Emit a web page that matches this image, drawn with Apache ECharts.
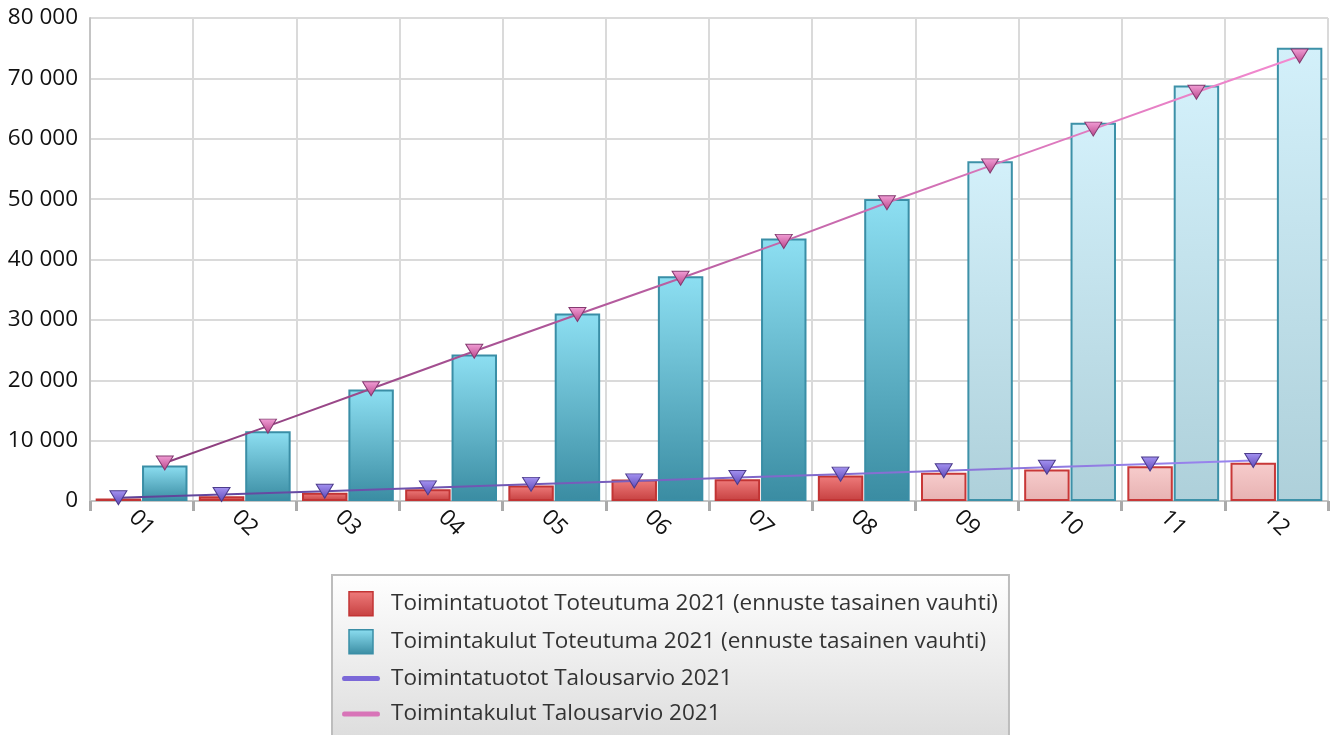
<!DOCTYPE html>
<html>
<head>
<meta charset="utf-8">
<script src="https://cdn.jsdelivr.net/npm/echarts@6/dist/echarts.min.js"></script>
<style>html,body{margin:0;padding:0;background:#fff}#c{width:1338px;height:735px}</style>
</head>
<body>
<div id="c"></div>
<script>
const months = ['01','02','03','04','05','06','07','08','09','10','11','12'];
const tuototToteutuma = [400, 800, 1360, 1950, 2570, 3560, 3600, 4220, 4670, 5220, 5760, 6320];
const kulutToteutuma = [5880, 11560, 18460, 24250, 31040, 37220, 43460, 50030, 56260, 62670, 68840, 75080];
const tuototBudjetti = [530, 1080, 1620, 2180, 2760, 3330, 3900, 4450, 5020, 5580, 6140, 6700];
const kulutBudjetti = [6300, 12400, 18600, 24800, 30900, 36900, 43000, 49400, 55500, 61600, 67700, 73700];
const forecastFrom = 8; // index of first forecast month
const yTicks = [0, 10000, 20000, 30000, 40000, 50000, 60000, 70000, 80000];

const names = [
  'Toimintatuotot Toteutuma 2021 (ennuste tasainen vauhti)',
  'Toimintakulut Toteutuma 2021 (ennuste tasainen vauhti)',
  'Toimintatuotot Talousarvio 2021',
  'Toimintakulut Talousarvio 2021'
];

const G = echarts.graphic.LinearGradient;
const catGap = 0.11, barGap = 0.02;
const bw = (1 - catGap) / (2 + barGap);
const offRed = catGap / 2 + bw / 2;
const offBlue = catGap / 2 + bw * (1 + barGap) + bw / 2;

const redActual = {color: new G(0,0,0,1,[{offset:0,color:'#ef7c7c'},{offset:1,color:'#c64040'}]), borderColor:'#c23434', borderWidth:2};
const redFc = {color: new G(0,0,0,1,[{offset:0,color:'#f7cccc'},{offset:1,color:'#e7b2b2'}]), borderColor:'#c83838', borderWidth:2};
const blueActual = {color: new G(0,0,0,1,[{offset:0,color:'#8ddff2'},{offset:1,color:'#3a8ca2'}]), borderColor:'#3a8ea6', borderWidth:2};
const blueFc = {color: new G(0,0,0,1,[{offset:0,color:'#d3f0fa'},{offset:1,color:'#aed0da'}]), borderColor:'#3d91a8', borderWidth:2};

function barData(vals, a, f){ return vals.map((v,i)=>({value:v, itemStyle: i>=forecastFrom ? f : a})); }
function lineData(vals, off){ return vals.map((v,i)=>[i+off, v]); }
const tri = 'path://M0,0L10,0L5,8.5Z';
const fmt = v => String(v).replace(/\B(?=(\d{3})+(?!\d))/g, ' ');

const chart = echarts.init(document.getElementById('c'));
chart.setOption({
  animation:false,
  textStyle:{fontFamily:'"Open Sans", "Noto Sans", sans-serif'},
  grid:{left:90, right:10, top:18, bottom:234},
  legend:{
    orient:'vertical', left:332, top:575, height:200,
    padding:[16,11,16,10], itemGap:12.5, itemWidth:38, itemHeight:24,
    backgroundColor:new G(0,0,0,1,[{offset:0,color:'#ffffff'},{offset:1,color:'#dcdcdc'}]),
    borderColor:'#bdbdbd', borderWidth:2,
    textStyle:{fontSize:22.5, color:'#333', padding:[0,0,0,6]},
    data:[
      {name:names[0], icon:'path://M0,0L24,0L24,24L0,24Z', itemStyle:{color:new G(0,0,0,1,[{offset:0,color:'#ef7c7c'},{offset:1,color:'#c64040'}]), borderColor:'#c23434', borderWidth:1.5}},
      {name:names[1], icon:'path://M0,0L24,0L24,24L0,24Z', itemStyle:{color:new G(0,0,0,1,[{offset:0,color:'#8ddff2'},{offset:1,color:'#3a8ca2'}]), borderColor:'#3a8ea6', borderWidth:1.5}},
      {name:names[2], icon:'path://M2,0L36,0Q38,0 38,2.5Q38,5 36,5L2,5Q0,5 0,2.5Q0,0 2,0Z', itemStyle:{color:'#7b68d8', borderWidth:0}},
      {name:names[3], icon:'path://M2,0L36,0Q38,0 38,2.5Q38,5 36,5L2,5Q0,5 0,2.5Q0,0 2,0Z', itemStyle:{color:'#d874b8', borderWidth:0}}
    ]
  },
  xAxis:[
    {type:'category', data:months, boundaryGap:true,
     axisLine:{show:true, lineStyle:{color:'#c4c4c4', width:2}},
     axisTick:{show:true, length:10, lineStyle:{color:'#aaaaaa', width:3}},
     axisLabel:{rotate:-45, fontSize:22.5, color:'#111', margin:22, align:'center', verticalAlign:'middle'},
     splitLine:{show:true, lineStyle:{color:'#dadada', width:2}}},
    {type:'value', min:0, max:12, show:false}
  ],
  yAxis:{type:'value', min:yTicks[0], max:yTicks[yTicks.length-1], interval:yTicks[1]-yTicks[0],
    axisLine:{show:true, lineStyle:{color:'#c4c4c4', width:2}},
    axisTick:{show:false},
    axisLabel:{fontSize:22.5, color:'#111', margin:12, formatter:fmt},
    splitLine:{show:true, lineStyle:{color:'#dadada', width:2}}},
  series:[
    {name:names[0], type:'bar', data:barData(tuototToteutuma, redActual, redFc), barCategoryGap:(catGap*100)+'%', barGap:(barGap*100)+'%', itemStyle:redActual},
    {name:names[1], type:'bar', data:barData(kulutToteutuma, blueActual, blueFc), barCategoryGap:(catGap*100)+'%', barGap:(barGap*100)+'%', itemStyle:blueActual},
    {name:names[2], type:'line', xAxisIndex:1, data:lineData(tuototBudjetti, offRed), z:5,
     lineStyle:{width:2, color:new G(0,0,1,0,[{offset:0,color:'#5e4196'},{offset:1,color:'#9a86f0'}])},
     symbol:tri, symbolSize:[17,14], symbolKeepAspect:false,
     itemStyle:{color:new G(0,0,0,1,[{offset:0,color:'#a493f2'},{offset:1,color:'#6048b8'}]), borderColor:'#4c3c8c', borderWidth:1}},
    {name:names[3], type:'line', xAxisIndex:1, data:lineData(kulutBudjetti, offBlue), z:5,
     lineStyle:{width:2, color:new G(0,0,1,0,[{offset:0,color:'#8a3c7c'},{offset:1,color:'#f48ad0'}])},
     symbol:tri, symbolSize:[17,14], symbolKeepAspect:false,
     itemStyle:{color:new G(0,0,0,1,[{offset:0,color:'#f29ed6'},{offset:1,color:'#b8468a'}]), borderColor:'#853a70', borderWidth:1}}
  ]
});
</script>
</body>
</html>
